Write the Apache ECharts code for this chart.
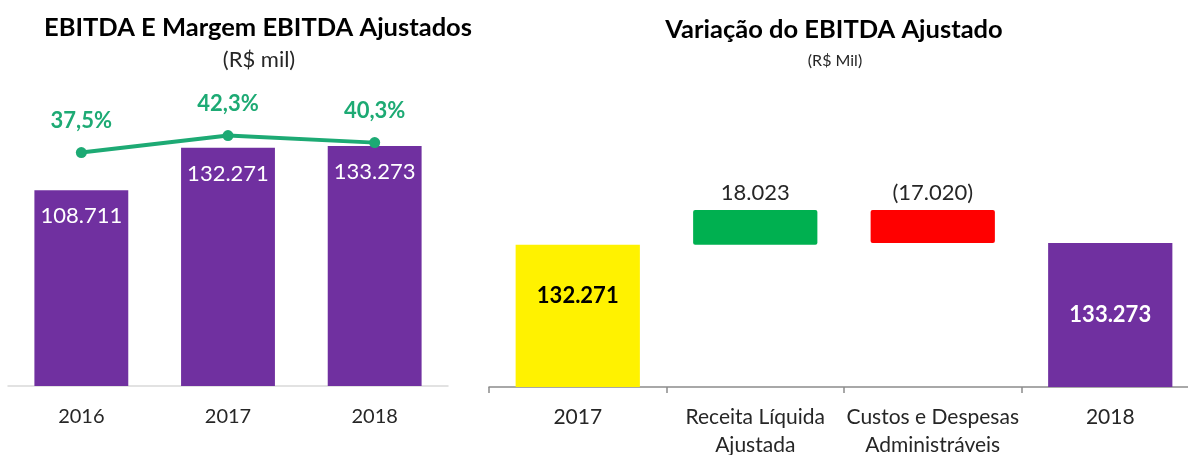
<!DOCTYPE html>
<html>
<head>
<meta charset="utf-8">
<script src="https://cdn.jsdelivr.net/npm/echarts@6/dist/echarts.min.js"></script>
<style>
  html, body { margin: 0; padding: 0; background: #fff; }
  #chart { width: 1188px; height: 455px; }
</style>
</head>
<body>
<div id="chart"></div>
<script>
const years = ['2016', '2017', '2018'];
const ebitda = [108711, 132271, 133273];
const margem = [37.5, 42.3, 40.3];

const wfCats = ['2017', 'Receita Líquida\nAjustada', 'Custos e Despesas\nAdministráveis', '2018'];
const wfValues = [132271, 18023, -17020, 133273];
const wfColors = ['#FFF200', '#00B050', '#FF0000', '#7030A0'];

const FONT = 'Lato';

function fmt(n) {
  const s = String(Math.abs(n)).replace(/\B(?=(\d{3})+(?!\d))/g, '.');
  return n < 0 ? '(' + s + ')' : s;
}

// waterfall: first and last are totals, middle ones float on the running total
const wfBase = [];
const wfHeight = [];
let running = 0;
wfValues.forEach(function (v, i) {
  if (i === 0 || i === wfValues.length - 1) {
    wfBase.push(0);
    wfHeight.push(Math.abs(v));
    running = v;
  } else if (v >= 0) {
    wfBase.push(running);
    wfHeight.push(v);
    running += v;
  } else {
    running += v;
    wfBase.push(running);
    wfHeight.push(-v);
  }
});

const chart = echarts.init(document.getElementById('chart'));

const option = {
  animation: false,
  textStyle: { fontFamily: FONT },
  title: [
    { text: 'EBITDA E Margem EBITDA Ajustados', left: 253, top: 10, textAlign: 'center',
      textStyle: { fontFamily: FONT, fontSize: 25.5, fontWeight: 'bold', color: '#000' } },
    { text: '(R$ mil)', left: 254, top: 44, textAlign: 'center',
      textStyle: { fontFamily: FONT, fontSize: 22, fontWeight: 'normal', color: '#262626' } },
    { text: 'Variação do EBITDA Ajustado', left: 829, top: 12, textAlign: 'center',
      textStyle: { fontFamily: FONT, fontSize: 25.5, fontWeight: 'bold', color: '#000' } },
    { text: '(R$ Mil)', left: 830, top: 48, textAlign: 'center',
      textStyle: { fontFamily: FONT, fontSize: 16, fontWeight: 'normal', color: '#262626' } }
  ],
  grid: [
    { left: 8, width: 440, top: 60, bottom: 69, outerBoundsMode: 'none' },
    { left: 489, width: 710, top: 87, bottom: 68, outerBoundsMode: 'none' }
  ],
  xAxis: [
    {
      type: 'category', gridIndex: 0, data: years,
      axisLine: { lineStyle: { color: '#d9d9d9', width: 1.5 } },
      axisTick: { show: false },
      axisLabel: { margin: 21, fontSize: 20, color: '#262626', fontFamily: FONT }
    },
    {
      type: 'category', gridIndex: 1, data: wfCats,
      axisLine: { lineStyle: { color: '#8c8c8c', width: 1.5 } },
      axisTick: { show: true, length: 6, lineStyle: { color: '#8c8c8c', width: 1.5 } },
      axisLabel: { interval: 0, margin: 16, fontSize: 21, lineHeight: 28, color: '#262626', fontFamily: FONT }
    }
  ],
  yAxis: [
    { type: 'value', gridIndex: 0, min: 0, max: 181000, show: false, splitLine: { show: false } },
    { type: 'value', gridIndex: 0, min: -28.45, max: 63.64, show: false, splitLine: { show: false } },
    { type: 'value', gridIndex: 1, min: 59000, max: 213639, show: false, splitLine: { show: false } }
  ],
  series: [
    {
      name: 'EBITDA', type: 'bar', xAxisIndex: 0, yAxisIndex: 0,
      data: ebitda, barWidth: '64%',
      itemStyle: { color: '#7030A0' },
      label: {
        show: true, position: 'insideTop', distance: 15,
        color: '#fff', fontSize: 22, fontFamily: FONT,
        formatter: function (p) { return fmt(p.value); }
      }
    },
    {
      name: 'Margem', type: 'line', xAxisIndex: 0, yAxisIndex: 1,
      data: margem, symbol: 'circle', symbolSize: 11,
      lineStyle: { color: '#1DAA74', width: 4 },
      itemStyle: { color: '#1DAA74' },
      label: {
        show: true, position: 'top', distance: 15,
        color: '#1DAA74', fontSize: 22, fontWeight: 'bold', fontFamily: FONT,
        formatter: function (p) { return p.value.toFixed(1).replace('.', ',') + '%'; }
      }
    },
    {
      name: 'base', type: 'bar', xAxisIndex: 1, yAxisIndex: 2, stack: 'wf',
      data: wfBase, barWidth: '70%', clip: true,
      itemStyle: { color: 'transparent' },
      emphasis: { disabled: true }
    },
    {
      name: 'Variação', type: 'bar', xAxisIndex: 1, yAxisIndex: 2, stack: 'wf',
      barWidth: '70%', clip: true,
      data: wfHeight.map(function (h, i) {
        const item = { value: h, itemStyle: { color: wfColors[i], borderRadius: (i === 1 || i === 2) ? 2 : 0 } };
        if (i === 0) {
          item.label = { position: 'inside', offset: [0, -20], color: '#000', fontWeight: 'bold' };
        } else if (i === wfValues.length - 1) {
          item.label = { position: 'inside', color: '#fff', fontWeight: 'bold' };
        } else {
          item.label = { position: 'top', distance: 6, color: '#262626', fontWeight: 'normal', fontSize: 22 };
        }
        return item;
      }),
      label: {
        show: true, fontSize: 22, fontFamily: FONT,
        formatter: function (p) { return fmt(wfValues[p.dataIndex]); }
      }
    }
  ]
};

chart.setOption(option);
</script>
</body>
</html>
